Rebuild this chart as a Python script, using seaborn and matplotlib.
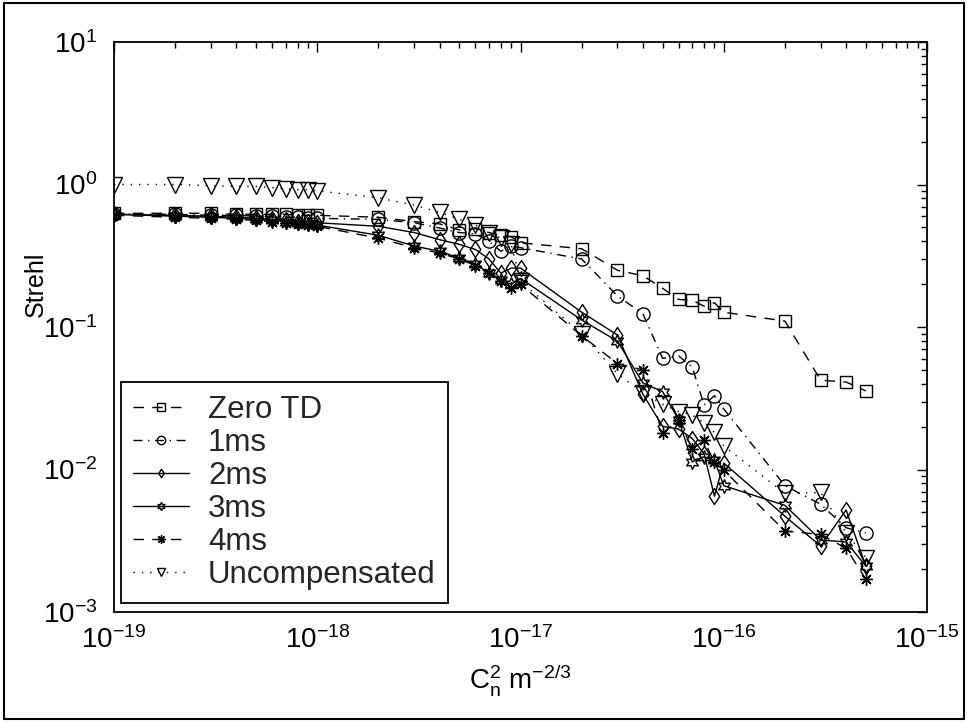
import numpy as np
import pandas as pd
import matplotlib
matplotlib.use("Agg")
import matplotlib.pyplot as plt
import seaborn as sns
from matplotlib.path import Path
from matplotlib.patches import Rectangle
from matplotlib.ticker import FixedLocator, LogFormatterSciNotation, NullFormatter

# ---------------- data ----------------
x_values = [1e-19, 2e-19, 3e-19, 4e-19, 5e-19, 6e-19, 7e-19, 8e-19, 9e-19, 1e-18,
            2e-18, 3e-18, 4e-18, 5e-18, 6e-18, 7e-18, 8e-18, 9e-18, 1e-17,
            2e-17, 3e-17, 4e-17, 5e-17, 6e-17, 7e-17, 8e-17, 9e-17, 1e-16,
            2e-16, 3e-16, 4e-16, 5e-16]

zero_td = [0.628, 0.628, 0.628, 0.618, 0.618, 0.618, 0.618, 0.608, 0.608, 0.608,
           0.589, 0.549, 0.529, 0.480, 0.490, 0.460, 0.440, 0.430, 0.390,
           0.354, 0.250, 0.229, 0.187, 0.156, 0.154, 0.140, 0.148, 0.127,
           0.110, 0.0423, 0.0411, 0.0356]

one_ms = [0.618, 0.618, 0.608, 0.608, 0.599, 0.599, 0.589, 0.589, 0.579, 0.579,
          0.569, 0.539, 0.495, 0.460, 0.450, 0.400, 0.340, 0.370, 0.360,
          0.300, 0.165, 0.124, 0.0603, 0.0627, 0.0522, 0.0284, 0.0330, 0.0266,
          0.0077, 0.0057, 0.0039, 0.0036]

two_ms = [0.618, 0.608, 0.599, 0.589, 0.579, 0.569, 0.559, 0.549, 0.549, 0.539,
          0.509, 0.460, 0.410, 0.380, 0.350, 0.300, 0.239, 0.259, 0.259,
          0.127, 0.0878, 0.0338, 0.0201, 0.0192, 0.0165, 0.0129, 0.0065, 0.0111,
          0.0047, 0.0029, 0.0052, 0.0021]

three_ms = [0.618, 0.599, 0.589, 0.579, 0.569, 0.559, 0.549, 0.539, 0.529, 0.519,
            0.440, 0.370, 0.340, 0.305, 0.277, 0.239, 0.215, 0.199, 0.219,
            0.112, 0.0795, 0.0405, 0.0352, 0.0223, 0.0113, 0.0123, 0.0116, 0.0077,
            0.0056, 0.0032, 0.0031, 0.0021]

four_ms = [0.608, 0.589, 0.579, 0.569, 0.559, 0.549, 0.539, 0.529, 0.519, 0.509,
           0.420, 0.360, 0.330, 0.300, 0.270, 0.239, 0.209, 0.189, 0.199,
           0.0868, 0.0553, 0.0500, 0.0179, 0.0223, 0.0140, 0.0160, 0.0112, 0.0099,
           0.0037, 0.0035, 0.0028, 0.0017]

uncompensated = [1.0, 1.0, 0.98, 0.97, 0.97, 0.95, 0.93, 0.92, 0.92, 0.903,
                 0.805, 0.717, 0.638, 0.569, 0.519, 0.460, 0.420, 0.380, 0.209,
                 0.0899, 0.0469, 0.0347, 0.0287, 0.0255, 0.0241, 0.0212, 0.0182, 0.0146,
                 0.0068, 0.0069, 0.0036, 0.0024]

labels = ["Zero TD", "1ms", "2ms", "3ms", "4ms", "Uncompensated"]

x_major = [1e-19, 1e-18, 1e-17, 1e-16, 1e-15]
y_major = [1e-3, 1e-2, 1e-1, 1e0, 1e1]

# ---------------- style ----------------
sns.set_theme(style="white")
plt.rcParams["font.family"] = ["Liberation Sans", "DejaVu Sans"]
plt.rcParams["mathtext.fontset"] = "custom"
plt.rcParams["mathtext.rm"] = "Liberation Sans"
plt.rcParams["mathtext.it"] = "Liberation Sans"
plt.rcParams["mathtext.default"] = "regular"

diamond = Path([(0, 1), (0.66, 0), (0, -1), (-0.66, 0), (0, 1)],
               [Path.MOVETO, Path.LINETO, Path.LINETO, Path.LINETO, Path.CLOSEPOLY])

dash = (0, (7.5, 6))
styles = [
    ("s", dash, 8),
    ("o", (0, (6.5, 4, 1, 4)), 9.5),
    (diamond, "-", 11.5),
    ((6, 1, 0), "-", 10),
    ((8, 2, 0), dash, 9),
    ("v", (0, (1, 5)), 11),
]
series = [zero_td, one_ms, two_ms, three_ms, four_ms, uncompensated]

fig = plt.figure(figsize=(9.69, 7.23), dpi=100)
ax = fig.add_axes([114 / 969, 1 - 612 / 723, 813 / 969, 570 / 723])
ax.set_xscale("log")
ax.set_yscale("log")

for lab, vals, (mk, ls, ms) in zip(labels, series, styles):
    sns.lineplot(x=x_values, y=vals, ax=ax, color="black", linewidth=1.0,
                 linestyle=ls, marker=mk, markersize=ms, markerfacecolor="none",
                 markeredgecolor="black", markeredgewidth=1.0, label=lab,
                 estimator=None, sort=False)

ax.set_xlim(1e-19, 1e-15)
ax.set_ylim(1e-3, 1e1)

x_minor = [m * d for d in [1e-19, 1e-18, 1e-17, 1e-16] for m in range(2, 10)]
y_minor = [m * d for d in [1e-3, 1e-2, 1e-1, 1e0] for m in range(2, 10)]
ax.xaxis.set_major_locator(FixedLocator(x_major))
ax.yaxis.set_major_locator(FixedLocator(y_major))
ax.xaxis.set_minor_locator(FixedLocator(x_minor))
ax.yaxis.set_minor_locator(FixedLocator(y_minor))
ax.xaxis.set_minor_formatter(NullFormatter())
ax.yaxis.set_minor_formatter(NullFormatter())
ax.xaxis.set_major_formatter(LogFormatterSciNotation())
ax.yaxis.set_major_formatter(LogFormatterSciNotation())

ax.tick_params(which="both", direction="in", top=True, right=True,
               labelsize=20, colors="black", width=1.0)
ax.tick_params(which="major", length=7)
ax.tick_params(which="minor", length=4)
ax.tick_params(axis="x", which="major", pad=10)
ax.tick_params(axis="y", which="major", pad=12)
for sp in ax.spines.values():
    sp.set_color("black")
    sp.set_linewidth(1.3)

ax.set_ylabel("Strehl", fontsize=18, color="black")
ax.yaxis.set_label_coords(-0.081, 0.575)
ax.set_xlabel(r"$C_n^2\ m^{-2/3}$", fontsize=20, color="black", labelpad=6)

leg = ax.legend(loc="lower left", bbox_to_anchor=(0.008, 0.016), borderaxespad=0,
                fontsize=22.5, fancybox=False, edgecolor="black", framealpha=1,
                handlelength=1.8, handletextpad=0.6, labelspacing=0.1,
                borderpad=0.4)
leg.get_frame().set_linewidth(1.3)
for h in leg.legend_handles:
    h.set_markersize(6)

fig.add_artist(Rectangle((4 / 969, 1 - 719 / 723), 960 / 969, 716 / 723,
                         transform=fig.transFigure, fill=False,
                         edgecolor="black", linewidth=1.5))

fig.savefig("out.png", dpi=100, facecolor="white")
